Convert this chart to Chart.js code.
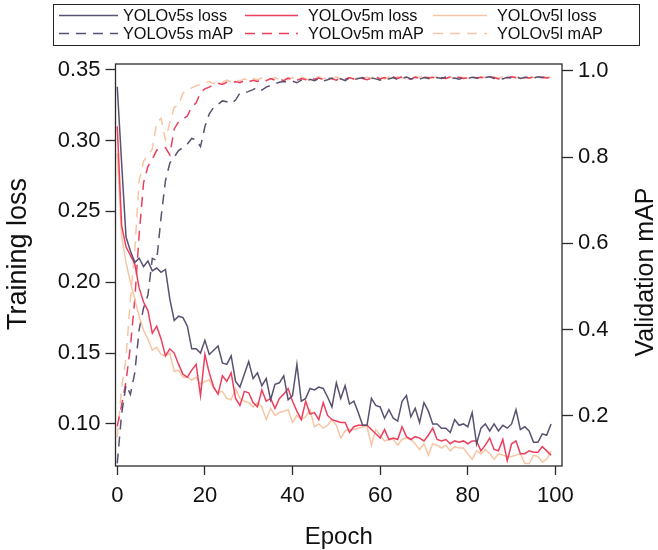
<!DOCTYPE html>
<html>
<head>
<meta charset="utf-8">
<script src="https://cdn.jsdelivr.net/npm/chart.js@4.4.0/dist/chart.umd.min.js"></script>
<style>
  html, body { margin: 0; padding: 0; background: #fff; }
  canvas { display: block; }
</style>
</head>
<body>
<canvas id="c" width="658" height="550"></canvas>
<script>
// epochs 0..99
const epochs = Array.from({ length: 100 }, (_, i) => i);

const lossTicks = [0.10, 0.15, 0.20, 0.25, 0.30, 0.35];
const mapTicks = [0.2, 0.4, 0.6, 0.8, 1.0];
const epochTicks = [0, 20, 40, 60, 80, 100];

const seriesNames = ['YOLOv5s loss', 'YOLOv5m loss', 'YOLOv5l loss', 'YOLOv5s mAP', 'YOLOv5m mAP', 'YOLOv5l mAP'];

// training loss
const lossS = [0.338, 0.284, 0.232, 0.222, 0.214, 0.217, 0.211, 0.215, 0.208, 0.210,
  0.207, 0.209, 0.188, 0.173, 0.176, 0.175, 0.169, 0.153, 0.153, 0.150,
  0.159, 0.149, 0.152, 0.155, 0.143, 0.142, 0.148, 0.130, 0.126, 0.135,
  0.144, 0.132, 0.136, 0.127, 0.132, 0.117, 0.128, 0.129, 0.134, 0.117,
  0.120, 0.142, 0.116, 0.118, 0.125, 0.124, 0.126, 0.125, 0.119, 0.112,
  0.129, 0.118, 0.127, 0.114, 0.116, 0.108, 0.099, 0.099, 0.118, 0.113,
  0.112, 0.104, 0.110, 0.104, 0.102, 0.116, 0.120, 0.105, 0.111, 0.101,
  0.115, 0.109, 0.100, 0.100, 0.097, 0.097, 0.094, 0.103, 0.099, 0.100,
  0.098, 0.108, 0.086, 0.097, 0.100, 0.095, 0.100, 0.095, 0.099, 0.097,
  0.100, 0.110, 0.096, 0.098, 0.095, 0.087, 0.087, 0.093, 0.092, 0.100];

const lossM = [0.310, 0.240, 0.225, 0.219, 0.213, 0.196, 0.186, 0.180, 0.164, 0.169,
  0.160, 0.148, 0.153, 0.150, 0.142, 0.135, 0.133, 0.138, 0.142, 0.120,
  0.149, 0.136, 0.126, 0.121, 0.134, 0.130, 0.136, 0.118, 0.113, 0.123,
  0.122, 0.115, 0.112, 0.124, 0.116, 0.118, 0.111, 0.118, 0.121, 0.125,
  0.116, 0.109, 0.103, 0.116, 0.107, 0.108, 0.103, 0.115, 0.106, 0.103,
  0.102, 0.101, 0.101, 0.094, 0.098, 0.099, 0.099, 0.099, 0.096, 0.093,
  0.090, 0.096, 0.089, 0.090, 0.089, 0.098, 0.091, 0.089, 0.091, 0.090,
  0.088, 0.092, 0.097, 0.089, 0.088, 0.089, 0.086, 0.088, 0.087, 0.088,
  0.086, 0.088, 0.088, 0.081, 0.085, 0.090, 0.082, 0.081, 0.089, 0.074,
  0.086, 0.088, 0.079, 0.079, 0.081, 0.080, 0.080, 0.084, 0.081, 0.078];

const lossL = [0.291, 0.232, 0.214, 0.200, 0.188, 0.176, 0.166, 0.160, 0.152, 0.154,
  0.149, 0.148, 0.150, 0.137, 0.138, 0.133, 0.133, 0.131, 0.133, 0.128,
  0.130, 0.131, 0.125, 0.122, 0.123, 0.118, 0.117, 0.125, 0.118, 0.116,
  0.115, 0.112, 0.115, 0.112, 0.103, 0.111, 0.106, 0.108, 0.109, 0.110,
  0.101, 0.106, 0.103, 0.105, 0.110, 0.098, 0.100, 0.097, 0.099, 0.103,
  0.099, 0.090, 0.095, 0.096, 0.096, 0.097, 0.098, 0.098, 0.085, 0.096,
  0.092, 0.088, 0.089, 0.089, 0.085, 0.089, 0.090, 0.089, 0.086, 0.082,
  0.086, 0.078, 0.086, 0.085, 0.083, 0.085, 0.081, 0.084, 0.083, 0.083,
  0.079, 0.075, 0.081, 0.079, 0.082, 0.079, 0.075, 0.079, 0.078, 0.077,
  0.077, 0.078, 0.079, 0.072, 0.072, 0.078, 0.077, 0.073, 0.075, 0.081];

// validation mAP
const mapS = [0.090, 0.205, 0.272, 0.250, 0.300, 0.400, 0.450, 0.480, 0.565, 0.560,
  0.660, 0.745, 0.786, 0.800, 0.815, 0.822, 0.830, 0.843, 0.840, 0.824,
  0.870, 0.900, 0.915, 0.922, 0.930, 0.928, 0.924, 0.932, 0.948, 0.948,
  0.952, 0.956, 0.962, 0.955, 0.962, 0.966, 0.970, 0.973, 0.975, 0.974,
  0.976, 0.972, 0.978, 0.975, 0.980, 0.977, 0.982, 0.976, 0.979, 0.983,
  0.978, 0.981, 0.977, 0.983, 0.979, 0.982, 0.984, 0.980, 0.983, 0.981,
  0.978, 0.983, 0.981, 0.984, 0.979, 0.982, 0.985, 0.981, 0.983, 0.980,
  0.984, 0.982, 0.980, 0.984, 0.982, 0.985, 0.981, 0.983, 0.980, 0.984,
  0.982, 0.985, 0.983, 0.981, 0.984, 0.986, 0.982, 0.984, 0.981, 0.985,
  0.983, 0.986, 0.982, 0.984, 0.985, 0.983, 0.986, 0.984, 0.985, 0.984];

const mapM = [0.176, 0.225, 0.280, 0.360, 0.470, 0.620, 0.740, 0.778, 0.795, 0.816,
  0.820, 0.822, 0.805, 0.865, 0.882, 0.888, 0.895, 0.917, 0.925, 0.950,
  0.958, 0.962, 0.967, 0.971, 0.968, 0.973, 0.970, 0.975, 0.972, 0.977,
  0.974, 0.978, 0.975, 0.980, 0.977, 0.982, 0.978, 0.981, 0.977, 0.983,
  0.980, 0.978, 0.982, 0.979, 0.984, 0.980, 0.983, 0.979, 0.984, 0.981,
  0.978, 0.983, 0.980, 0.984, 0.981, 0.985, 0.982, 0.979, 0.983, 0.986,
  0.981, 0.984, 0.980, 0.985, 0.982, 0.986, 0.983, 0.980, 0.985, 0.982,
  0.986, 0.983, 0.985, 0.981, 0.984, 0.982, 0.986, 0.983, 0.985, 0.982,
  0.984, 0.986, 0.983, 0.985, 0.982, 0.986, 0.984, 0.981, 0.985, 0.983,
  0.986, 0.984, 0.982, 0.985, 0.983, 0.986, 0.984, 0.985, 0.983, 0.985];

const mapL = [0.150, 0.265, 0.335, 0.470, 0.585, 0.745, 0.790, 0.805, 0.818, 0.880,
  0.890, 0.840, 0.880, 0.915, 0.920, 0.948, 0.955, 0.960, 0.965, 0.968,
  0.972, 0.975, 0.970, 0.976, 0.973, 0.978, 0.974, 0.979, 0.976, 0.981,
  0.977, 0.982, 0.979, 0.983, 0.978, 0.981, 0.984, 0.980, 0.983, 0.979,
  0.984, 0.981, 0.985, 0.982, 0.978, 0.983, 0.986, 0.981, 0.984, 0.980,
  0.985, 0.982, 0.986, 0.983, 0.980, 0.984, 0.981, 0.985, 0.982, 0.986,
  0.983, 0.981, 0.985, 0.982, 0.986, 0.983, 0.985, 0.982, 0.986, 0.984,
  0.993, 0.985, 0.983, 0.986, 0.984, 0.982, 0.985, 0.983, 0.986, 0.984,
  0.982, 0.985, 0.983, 0.986, 0.984, 0.982, 0.985, 0.983, 0.986, 0.984,
  0.985, 0.983, 0.986, 0.984, 0.982, 0.985, 0.983, 0.986, 0.984, 0.985];

const FONT = '"Liberation Sans", Arial, Helvetica, sans-serif';
const colS = '#5a5070';
const colM = '#ec3f5e';
const colL = '#f6c6a4';
const DASH = [10, 7];

function pts(arr) {
  return arr.map((v, i) => ({ x: epochs[i], y: v }));
}

function line(label, arr, color, axis, dashed) {
  return {
    label: label,
    data: pts(arr),
    borderColor: color,
    backgroundColor: color,
    borderWidth: 1.5,
    borderDash: dashed ? DASH : [],
    pointRadius: 0,
    tension: 0,
    fill: false,
    yAxisID: axis
  };
}

function vText(ctx, text, x, y, size) {
  ctx.save();
  ctx.translate(x, y);
  ctx.rotate(-Math.PI / 2);
  ctx.font = size + 'px ' + FONT;
  ctx.textAlign = 'center';
  ctx.textBaseline = 'middle';
  ctx.fillStyle = '#111';
  ctx.fillText(text, 0, 0);
  ctx.restore();
}

// frame, legend box, rotated axis titles
const decor = {
  id: 'decor',
  afterDatasetsDraw(chart) {
    const { ctx, chartArea: a } = chart;
    ctx.save();
    ctx.strokeStyle = '#2b2b2b';
    ctx.lineWidth = 1.3;
    ctx.strokeRect(a.left, a.top, a.right - a.left, a.bottom - a.top);
    ctx.restore();
  },
  afterDraw(chart) {
    const ctx = chart.ctx;
    ctx.save();
    ctx.strokeStyle = '#222';
    ctx.lineWidth = 1;
    ctx.strokeRect(53.5, 4.5, 586, 41);

    const cols = [[59, 118, 123], [245, 298, 308], [433, 487, 497]];
    const rows = [15.5, 33.5];
    ctx.font = '16.3px ' + FONT;
    ctx.textBaseline = 'middle';
    ctx.textAlign = 'left';
    chart.data.datasets.forEach((ds, i) => {
      const c = cols[i % 3];
      const y = rows[Math.floor(i / 3)];
      ctx.strokeStyle = ds.borderColor;
      ctx.lineWidth = 1.5;
      ctx.setLineDash(ds.borderDash);
      ctx.beginPath();
      ctx.moveTo(c[0], y);
      ctx.lineTo(c[1], y);
      ctx.stroke();
      ctx.setLineDash([]);
      ctx.fillStyle = '#111';
      ctx.fillText(ds.label, c[2], y + 1);
    });
    ctx.restore();

    vText(ctx, 'Training loss', 19, 254, 27);
    vText(ctx, 'Validation mAP', 646, 272, 25);
  }
};

const tickFont = { family: FONT, size: 22 };
const gridOpts = (len) => ({
  display: true,
  drawOnChartArea: false,
  drawTicks: true,
  tickLength: len,
  tickColor: '#2b2b2b',
  tickWidth: 1.3
});

new Chart(document.getElementById('c'), {
  type: 'line',
  data: {
    datasets: [
      line(seriesNames[0], lossS, colS, 'y', false),
      line(seriesNames[1], lossM, colM, 'y', false),
      line(seriesNames[2], lossL, colL, 'y', false),
      line(seriesNames[3], mapS, colS, 'y2', true),
      line(seriesNames[4], mapM, colM, 'y2', true),
      line(seriesNames[5], mapL, colL, 'y2', true)
    ]
  },
  options: {
    responsive: false,
    animation: false,
    devicePixelRatio: 1,
    layout: { padding: { top: 64, left: 0, right: 0, bottom: 0 } },
    plugins: {
      legend: { display: false },
      tooltip: { enabled: false }
    },
    scales: {
      x: {
        type: 'linear',
        min: -0.4,
        max: 101.5,
        afterBuildTicks: s => { s.ticks = epochTicks.map(v => ({ value: v })); },
        afterFit: s => { s.height = 84; },
        grid: gridOpts(9),
        border: { display: false },
        ticks: { font: tickFont, color: '#111', padding: 8, maxRotation: 0 },
        title: { display: true, text: 'Epoch', font: { family: FONT, size: 24 }, color: '#111', padding: { top: 0, bottom: -2 } }
      },
      y: {
        position: 'left',
        min: 0.0703,
        max: 0.354,
        afterBuildTicks: s => { s.ticks = lossTicks.map(v => ({ value: v })); },
        afterFit: s => { s.width = 115.5; },
        grid: gridOpts(10),
        border: { display: false },
        ticks: { font: tickFont, color: '#111', padding: 5, callback: v => v.toFixed(2) }
      },
      y2: {
        position: 'right',
        min: 0.084,
        max: 1.0155,
        afterBuildTicks: s => { s.ticks = mapTicks.map(v => ({ value: v })); },
        afterFit: s => { s.width = 96; },
        grid: gridOpts(11),
        border: { display: false },
        ticks: { font: tickFont, color: '#111', padding: 5, callback: v => v.toFixed(1) }
      }
    }
  },
  plugins: [decor]
});
</script>
</body>
</html>
